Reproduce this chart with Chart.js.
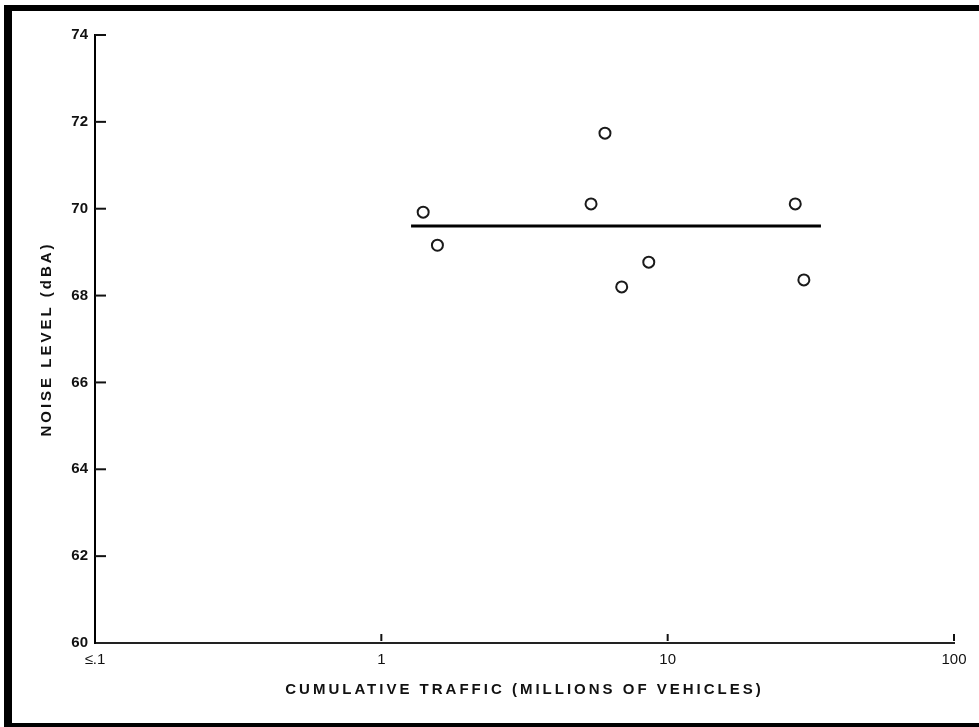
<!DOCTYPE html>
<html>
<head>
<meta charset="utf-8">
<script src="https://cdn.jsdelivr.net/npm/chart.js@4.4.0/dist/chart.umd.min.js"></script>
<style>
  html, body { margin: 0; padding: 0; background: #fff; overflow: hidden; }
  #wrap { position: relative; width: 979px; height: 727px; }
  #frame { position: absolute; left: 4px; top: 5px; right: -20px; bottom: -2px;
           border-left: 8px solid #000; border-top: 6px solid #000; border-bottom: 6px solid #000;
           pointer-events: none; }
  canvas { position: absolute; left: 0; top: 0; }
</style>
</head>
<body>
<div id="wrap">
  <canvas id="c" width="979" height="727"></canvas>
  <div id="frame"></div>
</div>
<script>
// ---- data ----
const trafficX = [1.40, 1.57, 5.40, 6.04, 6.91, 8.59, 27.9, 29.9];   // millions of vehicles
const noiseY   = [69.92, 69.16, 70.11, 71.74, 68.20, 68.77, 70.11, 68.36]; // dBA
const meanLineX = [1.27, 34.3];
const meanLevel = 69.6;
const xTickValues = [0.1, 1, 10, 100];
const xTickLabels = ['≤.1', '1', '10', '100'];
const yTickValues = [60, 62, 64, 66, 68, 70, 72, 74];
const xTitle = 'CUMULATIVE TRAFFIC (MILLIONS OF VEHICLES)';
const yTitle = 'NOISE LEVEL (dBA)';

// letter-spaced axis titles
const titleSpacing = { x: '3px', y: '3px' };
const origDrawTitle = Chart.Scale.prototype.drawTitle;
Chart.Scale.prototype.drawTitle = function () {
  const ctx = this.ctx;
  const prev = ctx.letterSpacing;
  ctx.letterSpacing = titleSpacing[this.id] || '0px';
  origDrawTitle.call(this);
  ctx.letterSpacing = prev || '0px';
};

// inward tick marks drawn through the scales
const inwardTicks = {
  id: 'inwardTicks',
  afterDraw(chart) {
    const ctx = chart.ctx, xs = chart.scales.x, ys = chart.scales.y;
    ctx.save();
    ctx.strokeStyle = '#111';
    ctx.lineWidth = 2;
    yTickValues.forEach(v => {
      const py = ys.getPixelForValue(v);
      if (v === 60) return;
      ctx.beginPath();
      ctx.moveTo(xs.left, py);
      ctx.lineTo(xs.left + 11, py);
      ctx.stroke();
    });
    xTickValues.forEach(v => {
      if (v === 0.1) return;
      const px = xs.getPixelForValue(v);
      ctx.beginPath();
      ctx.moveTo(px, ys.bottom - 2);
      ctx.lineTo(px, ys.bottom - 9);
      ctx.stroke();
    });
    ctx.restore();
  }
};

const points = trafficX.map((x, i) => ({ x, y: noiseY[i] }));
const meanLine = meanLineX.map(x => ({ x, y: meanLevel }));

new Chart(document.getElementById('c'), {
  type: 'scatter',
  data: {
    datasets: [
      {
        data: points,
        pointStyle: 'circle',
        pointRadius: 5.5,
        pointBorderWidth: 2,
        pointBorderColor: '#1a1a1a',
        pointBackgroundColor: '#ffffff',
        showLine: false
      },
      {
        data: meanLine,
        showLine: true,
        borderColor: '#000',
        borderWidth: 3,
        pointRadius: 0
      }
    ]
  },
  options: {
    responsive: false,
    animation: false,
    devicePixelRatio: 1,
    layout: { padding: { top: 35, right: 25, left: 0, bottom: 0 } },
    plugins: { legend: { display: false }, tooltip: { enabled: false } },
    scales: {
      x: {
        type: 'logarithmic',
        min: 0.1,
        max: 100,
        afterBuildTicks(scale) { scale.ticks = xTickValues.map(v => ({ value: v })); },
        afterFit(scale) { scale.height = 84; },
        grid: { display: false, drawTicks: false },
        border: { display: true, color: '#222', width: 2 },
        ticks: {
          autoSkip: false,
          maxRotation: 0,
          padding: 8,
          color: '#111',
          font: { family: 'Liberation Sans, Arial, sans-serif', size: 15 },
          callback(value) {
            const i = xTickValues.indexOf(value);
            return i >= 0 ? xTickLabels[i] : '';
          }
        },
        title: {
          display: true,
          text: xTitle,
          color: '#111',
          font: { family: 'Liberation Sans, Arial, sans-serif', size: 15, weight: 'bold' },
          padding: { top: 0, bottom: 28 }
        }
      },
      y: {
        type: 'linear',
        min: 60,
        max: 74,
        afterBuildTicks(scale) { scale.ticks = yTickValues.map(v => ({ value: v })); },
        afterFit(scale) { scale.width = 95; },
        grid: { display: false, drawTicks: false },
        border: { display: true, color: '#000', width: 2 },
        ticks: {
          padding: 7,
          color: '#111',
          font: { family: 'Liberation Sans, Arial, sans-serif', size: 15, weight: 'bold' }
        },
        title: {
          display: true,
          text: yTitle,
          color: '#111',
          font: { family: 'Liberation Sans, Arial, sans-serif', size: 15, weight: 'bold' },
          padding: { top: 38, bottom: 0 }
        }
      }
    }
  },
  plugins: [inwardTicks]
});
</script>
</body>
</html>
